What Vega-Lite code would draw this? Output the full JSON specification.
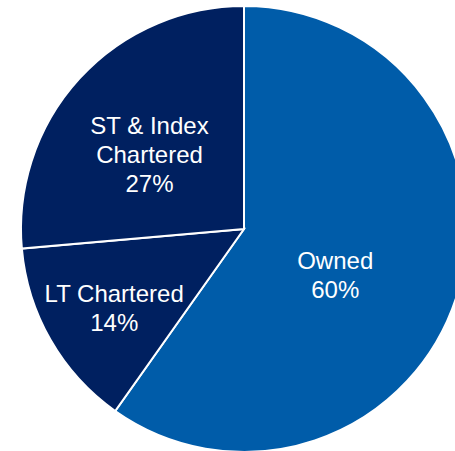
{
  "$schema": "https://vega.github.io/schema/vega-lite/v6.json",
  "width": 488,
  "height": 458,
  "autosize": "none",
  "padding": 0,
  "background": "white",
  "config": {"view": {"stroke": null}},
  "data": {"values": [
    {"segment": "Owned", "value": 59.8, "label": "Owned\n60%", "order": 1},
    {"segment": "LT Chartered", "value": 13.8, "label": "LT Chartered\n14%", "order": 2},
    {"segment": "ST & Index Chartered", "value": 26.4, "label": "ST & Index\nChartered\n27%", "order": 3}
  ]},
  "encoding": {
    "theta": {"field": "value", "type": "quantitative", "stack": true},
    "order": {"field": "order", "type": "quantitative"}
  },
  "layer": [
    {
      "mark": {"type": "arc", "radius": 223, "stroke": "white", "strokeWidth": 2},
      "encoding": {
        "color": {"field": "segment", "type": "nominal", "legend": null,
          "scale": {"domain": ["Owned", "LT Chartered", "ST & Index Chartered"], "range": ["#005CA9", "#002060", "#002060"]}}
      }
    },
    {
      "mark": {"type": "text", "radius": 102, "dx": -6, "dy": 2, "font": "Liberation Sans", "fontSize": 24, "fill": "white", "lineBreak": "\n", "lineHeight": 29, "align": "center", "baseline": "middle"},
      "encoding": {"text": {"condition": {"test": "datum.segment === 'Owned'", "field": "label"}, "value": ""}}
    },
    {
      "mark": {"type": "text", "radius": 152, "dx": 2, "dy": -10, "font": "Liberation Sans", "fontSize": 24, "fill": "white", "lineBreak": "\n", "lineHeight": 29, "align": "center", "baseline": "middle"},
      "encoding": {"text": {"condition": {"test": "datum.segment === 'LT Chartered'", "field": "label"}, "value": ""}}
    },
    {
      "mark": {"type": "text", "radius": 120, "dx": -6, "dy": -21, "font": "Liberation Sans", "fontSize": 24, "fill": "white", "lineBreak": "\n", "lineHeight": 29, "align": "center", "baseline": "middle"},
      "encoding": {"text": {"condition": {"test": "datum.segment === 'ST & Index Chartered'", "field": "label"}, "value": ""}}
    }
  ]
}
